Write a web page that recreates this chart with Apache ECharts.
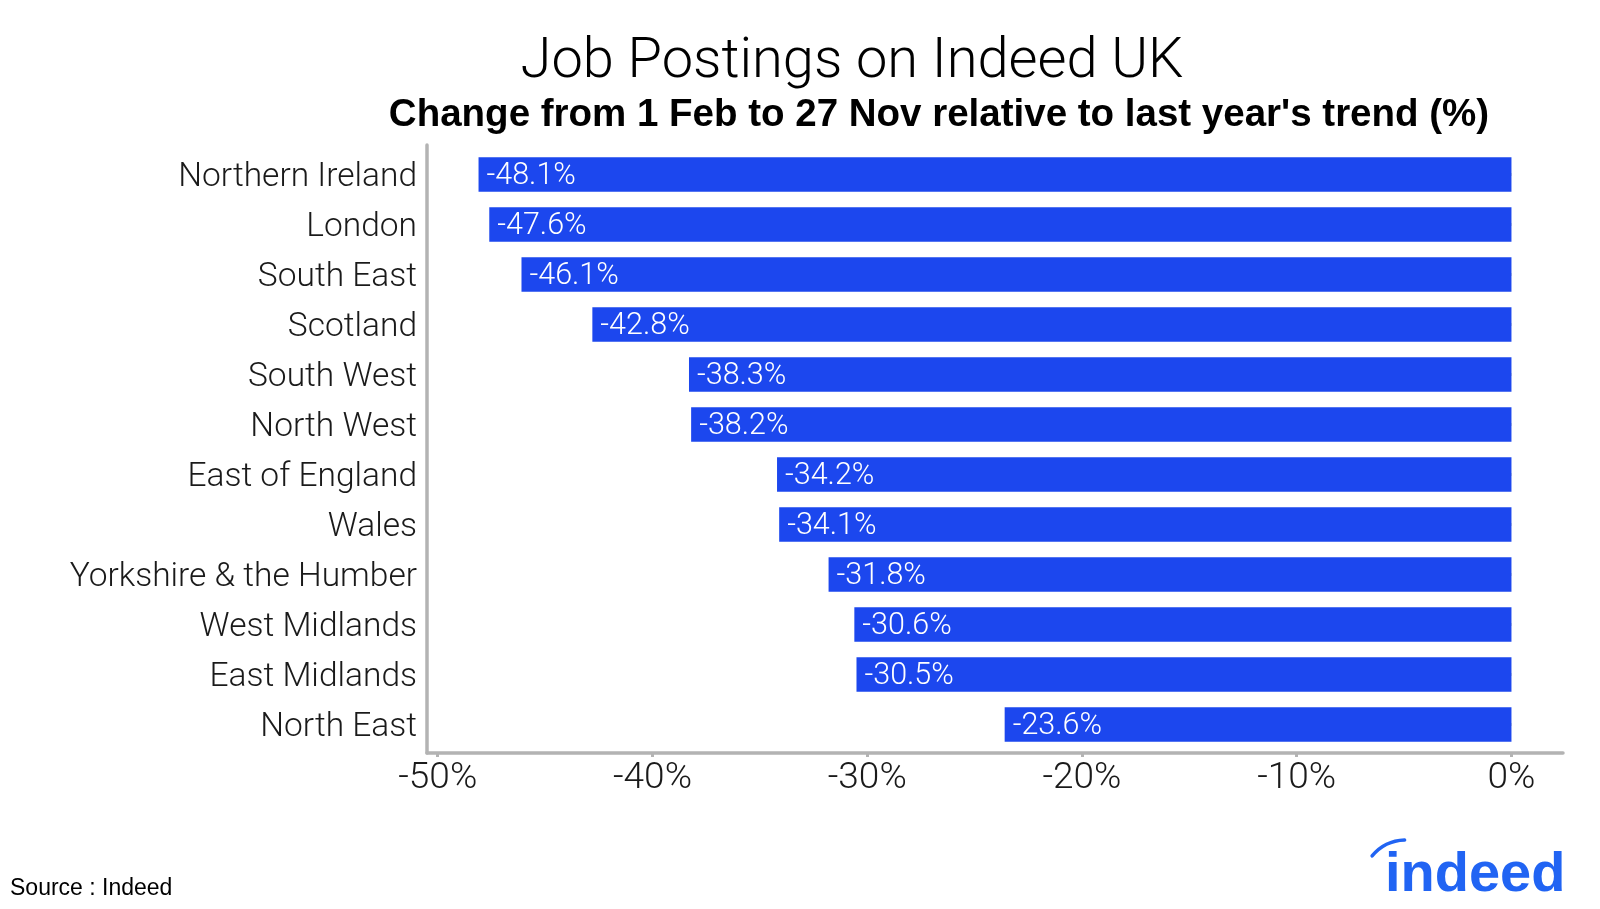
<!DOCTYPE html>
<html>
<head>
<meta charset="utf-8">
<script src="https://cdn.jsdelivr.net/npm/echarts@6/dist/echarts.min.js"></script>
<style>
html,body{margin:0;padding:0;background:#fff;}
#chart{width:1600px;height:909px;}
</style>
</head>
<body>
<div id="chart"></div>
<script>
const regions = ['Northern Ireland','London','South East','Scotland','South West','North West','East of England','Wales','Yorkshire & the Humber','West Midlands','East Midlands','North East'];
const changes = [-48.1,-47.6,-46.1,-42.8,-38.3,-38.2,-34.2,-34.1,-31.8,-30.6,-30.5,-23.6];
const xTicks = [-50,-40,-30,-20,-10,0];
const titleText = 'Job Postings on Indeed UK';
const subtitleText = "Change from 1 Feb to 27 Nov relative to last year's trend (%)";
const sourceText = 'Source : Indeed';

const FONT = "'Roboto', 'Liberation Sans', sans-serif";
const XMIN = -50.5, XMAX = 2.4;
const AXIS_GRAY = '#b3b3b3';

const chart = echarts.init(document.getElementById('chart'), null, {renderer:'canvas'});
chart.setOption({
  backgroundColor:'#fff',
  animation:false,
  title:[
    {text:titleText, left:847, top:58, textAlign:'center', textVerticalAlign:'middle',
     textStyle:{fontFamily:FONT, fontWeight:300, fontSize:56, color:'#000'}},
    {text:subtitleText, left:934, top:110, textAlign:'center', textVerticalAlign:'middle',
     textStyle:{fontFamily:"'Liberation Sans', sans-serif", fontWeight:'bold', fontSize:38.5, color:'#000'}},
    {text:sourceText, left:5, top:884, textVerticalAlign:'middle',
     textStyle:{fontFamily:"'Liberation Sans', sans-serif", fontWeight:400, fontSize:23, color:'#000'}}
  ],
  grid:[
    {left:427, right:37, top:149.5, bottom:159.5, containLabel:false},
    {left:427, right:37, top:145, bottom:156, containLabel:false}
  ],
  xAxis:[
    {gridIndex:0, type:'value', min:XMIN, max:XMAX, show:false},
    {gridIndex:1, type:'value', min:XMIN, max:XMAX,
     axisLine:{show:true, onZero:false, lineStyle:{color:AXIS_GRAY, width:3.5}},
     axisTick:{show:true, length:4, lineStyle:{color:AXIS_GRAY, width:3}, customValues:xTicks},
     axisLabel:{show:true, customValues:xTicks, margin:7, formatter:v=>v+'%',
       fontFamily:FONT, fontWeight:300, fontSize:37, color:'#1a1a1a'},
     splitLine:{show:false}}
  ],
  yAxis:[
    {gridIndex:0, type:'category', data:regions, inverse:true,
     axisLine:{show:false},
     axisTick:{show:true, alignWithLabel:true, length:5, lineStyle:{color:AXIS_GRAY, width:3}},
     axisLabel:{margin:10, padding:[7,0,0,0], formatter:v=>'{a|'+v+'}',
       rich:{a:{fontFamily:FONT, fontWeight:300, fontSize:33.5, color:'#1a1a1a'}}},
     splitLine:{show:false}},
    {gridIndex:1, type:'value', min:0, max:1,
     axisLine:{show:true, onZero:false, lineStyle:{color:AXIS_GRAY, width:3.5}},
     axisTick:{show:false}, axisLabel:{show:false}, splitLine:{show:false}}
  ],
  series:[{
    type:'bar', xAxisIndex:0, yAxisIndex:0,
    data:changes, barWidth:'69%',
    itemStyle:{color:'#1c47ee'},
    label:{show:true, position:'insideLeft', distance:8, padding:[3,0,0,0],
      formatter:p=>'{a|'+p.value.toFixed(1)+'%}',
      rich:{a:{fontFamily:FONT, fontWeight:300, fontSize:30.5, color:'#fff'}}}
  }],
  graphic:[
    {type:'text', x:1385, y:876,
     style:{text:'indeed', font:"bold 56px 'Liberation Sans', sans-serif", fill:'#2164f3', verticalAlign:'middle'}},
    {type:'arc', shape:{cx:1406, cy:884, r:44, startAngle:Math.PI*1.22, endAngle:Math.PI*1.49, clockwise:true},
     style:{stroke:'#2164f3', lineWidth:3.5, fill:null, lineCap:'round'}}
  ]
});
</script>
</body>
</html>
